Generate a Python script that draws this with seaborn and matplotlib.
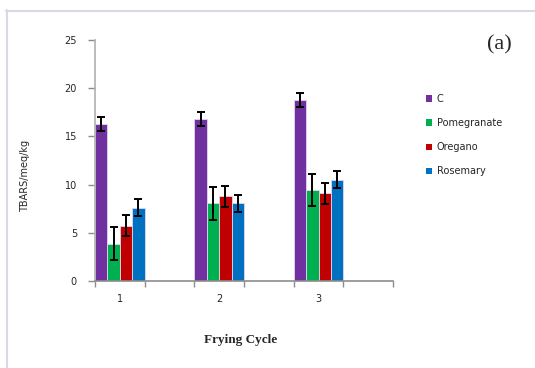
import matplotlib
matplotlib.use("Agg")
import matplotlib.pyplot as plt
from matplotlib.patches import Patch
from matplotlib.lines import Line2D
import seaborn as sns
import pandas as pd
import numpy as np

cycles = ["1", "2", "3"]
treatments = ["C", "Pomegranate", "Oregano", "Rosemary"]
c_vals = [16.3, 16.8, 18.8]
pom_vals = [3.85, 8.05, 9.45]
ore_vals = [5.75, 8.8, 9.1]
ros_vals = [7.6, 8.05, 10.5]
c_err = [0.75, 0.75, 0.75]
pom_err = [1.7, 1.7, 1.65]
ore_err = [1.05, 1.1, 1.1]
ros_err = [0.9, 0.9, 0.9]
colors = ["#7030A0", "#00B050", "#C00000", "#0070C0"]

vals = [c_vals, pom_vals, ore_vals, ros_vals]
errs = [c_err, pom_err, ore_err, ros_err]
rows = []
for t, v, e in zip(treatments, vals, errs):
    for cy, vv, ee in zip(cycles, v, e):
        rows.append({"Cycle": cy, "Treatment": t, "Value": vv, "Err": ee})
df = pd.DataFrame(rows)

sns.set_style("white")
plt.rcParams['font.family'] = ['DejaVu Sans']

fig = plt.figure(figsize=(5.35, 3.68), dpi=100)
ax = fig.add_axes([95/535, 1-281/368, (393-95)/535, (281-40)/368])

sns.barplot(data=df, x="Cycle", y="Value", hue="Treatment", order=cycles,
            hue_order=treatments, palette=colors, width=0.5, gap=0,
            errorbar=None, ax=ax, edgecolor="#E0D8EC", linewidth=0.6,
            saturation=1, legend=False)

# error bars at the library's bar positions
for ti, t in enumerate(treatments):
    cont = ax.containers[ti]
    xs = [p.get_x() + p.get_width()/2 for p in cont.patches]
    hs = [p.get_height() for p in cont.patches]
    ax.errorbar(xs, hs, yerr=errs[ti], fmt="none", ecolor="black",
                elinewidth=1.4, capsize=3.2, capthick=1.4, zorder=5)

ax.set_xlim(-0.25, 2.75)
ax.set_ylim(0, 25)
ax.set_yticks([0, 5, 10, 15, 20, 25])
ax.set_xticks(np.arange(-0.25, 2.8, 0.5))
ax.set_xticklabels([])
ax.set_xticks([0, 1, 2], minor=True)
ax.set_xticklabels(cycles, minor=True)
ax.tick_params(axis="x", which="major", bottom=True, length=4, width=1, color="#8C8C8C", direction="out")
ax.tick_params(axis="x", which="minor", bottom=True, length=0, pad=9, labelsize=7)
ax.tick_params(axis="y", left=True, length=5, width=1, color="#8C8C8C", direction="out", labelsize=7, pad=8)
for s in ["top", "right"]:
    ax.spines[s].set_visible(False)
ax.spines["left"].set_color("#B0B0B0")
ax.spines["bottom"].set_color("#8C8C8C")
ax.spines["left"].set_linewidth(1.2)
ax.spines["bottom"].set_linewidth(1.2)
ax.set_xlabel("")
ax.set_ylabel("")

fig.text(25/535, 1-176/368, "TBARS/meq/kg", rotation=90, ha="center", va="center", fontsize=7)
fig.text(241/535, 1-340/368, "Frying Cycle", ha="center", va="center", fontsize=9.5,
         family=["Liberation Serif", "DejaVu Serif"], fontweight="bold")
fig.text(499/535, 1-45/368, "(a)", ha="center", va="center", fontsize=16,
         family=["Liberation Serif", "DejaVu Serif"])

handles = [Patch(facecolor=c, edgecolor="none", label=t) for c, t in zip(colors, treatments)]
fig.legend(handles=handles, loc="upper left", bbox_to_anchor=(422/535, 1-90/368),
           frameon=False, fontsize=7, handlelength=0.6, handleheight=0.6,
           handletextpad=0.5, labelspacing=1.45, borderaxespad=0)

fig.add_artist(Line2D([6/535, 1], [1-10.5/368, 1-10.5/368], color="#D8D8E6", lw=1.5))
fig.add_artist(Line2D([6.5/535, 6.5/535], [0, 1-10/368], color="#D8D8E6", lw=1.5))

fig.savefig("out.png", dpi=100)
